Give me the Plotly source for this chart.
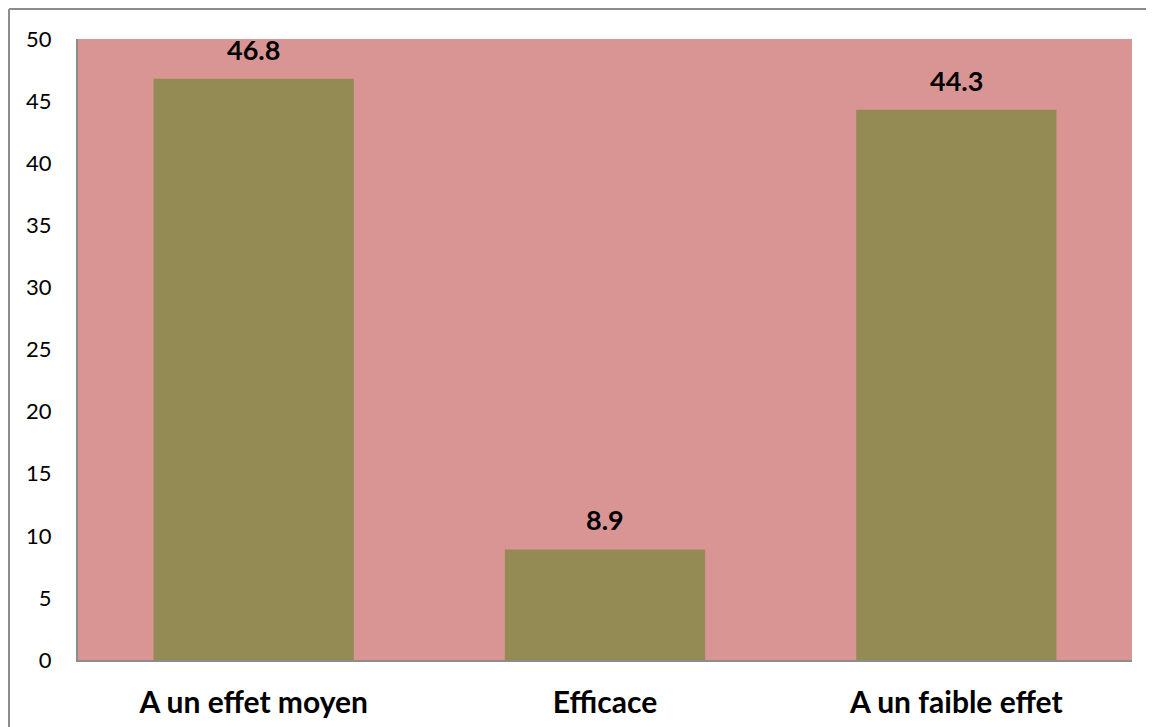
import plotly.graph_objects as go

categories = ["A un effet moyen", "Efficace", "A un faible effet"]
values = [46.8, 8.9, 44.3]
tick_vals = [0, 5, 10, 15, 20, 25, 30, 35, 40, 45, 50]

L, R, T, B = 70, 30, 31, 75
W, H = 1154, 727
PW, PH = W - L - R, H - T - B
FONT = "Lato, Open Sans, sans-serif"

fig = go.Figure()
fig.add_trace(go.Bar(
    x=categories, y=values,
    marker=dict(color="#948A54", line=dict(width=0)),
    hoverinfo="skip",
))

for c, v in zip(categories, values):
    fig.add_annotation(x=c, y=v, text=f"<b>{v}</b>", showarrow=False,
                       yanchor="bottom", yshift=11,
                       font=dict(family=FONT, size=27, color="black"))

bx = -(L - 1) / PW
by = 1 + (T - 1) / PH
fig.add_shape(type="line", xref="paper", yref="paper",
              x0=bx, x1=1.2, y0=by, y1=by,
              line=dict(color="#8C8C8C", width=2), layer="below")
fig.add_shape(type="line", xref="paper", yref="paper",
              x0=bx, x1=bx, y0=-0.3, y1=by,
              line=dict(color="#8C8C8C", width=2), layer="below")

fig.update_layout(
    width=W, height=H,
    margin=dict(l=L, r=R, t=T, b=B),
    paper_bgcolor="white",
    plot_bgcolor="#D99594",
    bargap=0.43,
    showlegend=False,
    font=dict(family=FONT, color="black"),
    xaxis=dict(
        showline=True, linecolor="#8C8C8C", linewidth=2,
        showgrid=False, ticks="", ticklabelstandoff=15,
        tickfont=dict(size=30, family=FONT),
        tickprefix="<b>", ticksuffix="</b>",
    ),
    yaxis=dict(
        range=[0, 50], tickvals=tick_vals,
        showline=True, linecolor="#8C8C8C", linewidth=2,
        showgrid=False, ticks="", ticklabelstandoff=20,
        tickfont=dict(size=22, family=FONT),
        zeroline=False,
    ),
)

fig.write_html("out.html")
